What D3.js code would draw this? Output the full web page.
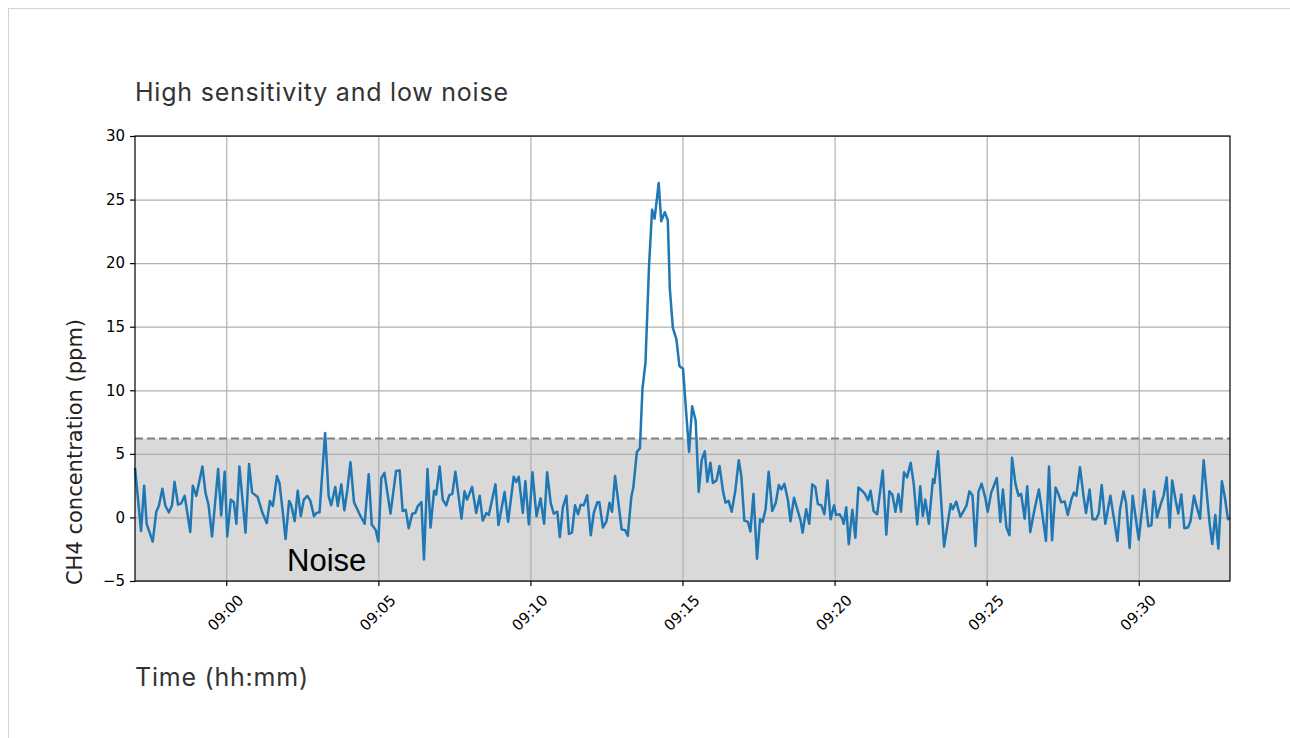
<!DOCTYPE html>
<html>
<head>
<meta charset="utf-8">
<script src="https://cdn.jsdelivr.net/npm/d3@7"></script>
<style>
  html, body { margin: 0; padding: 0; background: #fff; }
  svg { display: block; }
</style>
</head>
<body>
<script>
// Data
const startTime = "08:57:00";
const endTime = "09:33:00";
// seconds after start
const seconds = [
  0, 12, 18, 23, 35, 42, 47, 54, 60, 67, 73, 78, 85, 91, 98, 109, 114, 121, 133, 139,
  145, 152, 164, 170, 177, 182, 189, 195, 200, 206, 218, 225, 231, 242, 251, 260, 266, 272, 280, 285,
  292, 297, 304, 308, 315, 321, 327, 333, 340, 346, 353, 358, 364, 375, 382, 387, 395, 400, 407, 413,
  419, 425, 432, 443, 453, 461, 467, 475, 480, 486, 492, 504, 515, 522, 528, 534, 540, 547, 553, 558,
  565, 570, 577, 583, 590, 594, 601, 607, 614, 620, 626, 632, 644, 650, 655, 665, 673, 680, 686, 693,
  698, 711, 717, 729, 736, 747, 752, 757, 765, 770, 777, 784, 792, 800, 807, 813, 820, 826, 833, 838,
  844, 851, 856, 862, 868, 874, 879, 885, 892, 899, 905, 912, 916, 923, 930, 936, 941, 947, 954, 960,
  967, 972, 979, 983, 990, 996, 1001, 1007, 1014, 1020, 1025, 1033, 1038, 1045, 1051, 1055, 1061, 1068, 1074, 1081,
  1087, 1093, 1099, 1106, 1112, 1118, 1124, 1129, 1135, 1140, 1147, 1153, 1160, 1165, 1171, 1177, 1184, 1191, 1196, 1202,
  1209, 1214, 1220, 1227, 1233, 1238, 1244, 1250, 1257, 1264, 1270, 1275, 1281, 1288, 1293, 1300, 1306, 1313, 1317, 1324,
  1330, 1336, 1342, 1347, 1354, 1360, 1366, 1372, 1379, 1383, 1390, 1395, 1398, 1403, 1408, 1415, 1421, 1427, 1434, 1440,
  1446, 1451, 1457, 1464, 1475, 1482, 1488, 1494, 1500, 1506, 1511, 1517, 1523, 1530, 1536, 1543, 1549, 1554, 1559, 1566,
  1574, 1577, 1584, 1596, 1609, 1613, 1620, 1628, 1640, 1646, 1652, 1658, 1664, 1670, 1677, 1682, 1689, 1700, 1707, 1712,
  1719, 1725, 1730, 1737, 1743, 1748, 1755, 1760, 1766, 1774, 1783, 1789, 1797, 1803, 1809, 1816, 1822, 1827, 1834, 1840,
  1847, 1852, 1857, 1864, 1871, 1876, 1883, 1889, 1896, 1901, 1907, 1914, 1924, 1938, 1943, 1950, 1955, 1962, 1968, 1980,
  1991, 1999, 2005, 2010, 2016, 2023, 2029, 2035, 2041, 2046, 2053, 2058, 2064, 2070, 2077, 2082, 2089, 2095, 2101, 2108,
  2120, 2125, 2131, 2137, 2144, 2150, 2156, 2160
];
// CH4 concentration (ppm)
const ch4 = [
  3.9, -1.07, 2.5, -0.5, -1.9, 0.45, 0.9, 2.25, 0.9, 0.4, 0.95, 2.8, 1.0, 1.1, 1.7, -1.15, 2.5, 1.7, 4.0, 1.95,
  1.0, -1.5, 3.8, 0.15, 3.6, -1.5, 1.4, 1.2, -0.5, 4.0, -1.2, 4.2, 1.95, 1.6, 0.4, -0.45, 1.3, 0.9, 3.25, 2.7,
  0.25, -1.7, 1.3, 1.0, -0.3, 2.1, 0.1, 1.4, 1.7, 1.3, 0.1, 0.35, 0.4, 6.65, 1.7, 0.95, 2.4, 0.9, 2.6, 0.55,
  2.2, 4.35, 1.2, 0.25, -0.5, 3.4, -0.55, -1.0, -1.9, 3.1, 3.5, 0.3, 3.65, 3.7, 0.5, 0.6, -0.85, 0.3, 0.35, 0.9,
  1.2, -3.3, 3.8, -0.8, 2.1, 1.8, 4.0, 1.4, 0.95, 1.75, 1.85, 3.6, -0.1, 2.05, 1.4, 2.4, 0.35, 1.7, -0.25, 0.35,
  0.2, 2.6, -0.6, 2.0, -0.35, 3.2, 2.8, 3.2, 0.35, 2.85, -0.55, 3.55, 0.1, 1.5, -0.5, 3.55, 1.15, 0.3, 0.45, -1.55,
  0.8, 1.7, -1.3, -1.2, 0.95, 0.25, 1.0, 0.95, 1.75, -1.4, 0.35, 1.2, 1.2, -0.8, -0.3, 1.15, 0.45, 3.25, 1.0, -0.95,
  -1.0, -1.45, 1.6, 2.35, 5.15, 5.45, 10.1, 12.2, 19.8, 24.2, 23.5, 26.3, 23.3, 24.0, 23.4, 18.0, 14.9, 14.0, 11.9, 11.7,
  8.4, 5.15, 8.75, 7.6, 2.0, 4.55, 5.2, 2.8, 4.3, 2.7, 2.9, 4.05, 2.05, 1.15, 1.3, 0.45, 2.05, 4.5, 3.25, -0.25,
  -0.35, -1.1, 1.85, -3.25, -0.15, -0.35, 0.65, 3.6, 0.5, 1.15, 2.55, 2.2, 2.65, 1.35, -0.3, 1.55, 0.7, -0.25, -1.2, 0.65,
  -0.5, 2.6, 2.4, 1.05, 0.95, 0.25, 2.9, -0.15, 0.95, 0.2, 0.25, -0.1, -0.5, 0.8, -2.1, 0.6, -1.6, 2.35, 2.1, 1.85,
  1.35, 2.1, 0.5, 0.25, 3.7, -1.35, 2.05, 1.8, 0.45, 1.85, 0.45, 3.55, 3.15, 4.3, 2.7, -0.55, 2.45, 0.1, 1.4, -0.5,
  3.0, 2.7, 5.2, -2.3, 1.05, 0.65, 1.25, 0.05, 0.9, 2.05, 1.75, -2.25, 2.05, 2.65, 1.6, 0.45, 1.95, 3.1, -0.35, 2.2,
  -0.8, -1.4, 4.7, 2.6, 1.7, 1.85, -0.1, 2.45, -1.15, 0.55, 2.2, 0.5, -1.85, 4.0, -1.8, 2.35, 1.8, 1.2, 1.25, 0.2,
  1.4, 1.95, 1.7, 3.95, 1.7, 0.35, 2.2, -0.15, -0.15, 0.3, 2.55, -0.5, 1.7, -1.85, 0.6, 2.05, 1.15, -2.4, 1.7, -1.75,
  2.2, -0.7, -0.6, 2.05, 0.0, 1.0, 1.7, 3.15, -0.8, 2.9, 1.3, 0.3, 1.8, -0.85, -0.8, -0.3, 1.7, 0.75, -0.1, 4.5,
  -0.55, -2.1, 0.2, -2.45, 2.85, 1.55, -0.15, 0.0
];
const yTicks = [-5, 0, 5, 10, 15, 20, 25, 30];
const noiseLevel = 6.2;
const title = "High sensitivity and low noise";
const xLabel = "Time (hh:mm)";
const yLabel = "CH4 concentration (ppm)";
const noiseText = "Noise";

/////////////////////////////////////////////////
// Setup
/////////////////////////////////////////////////

const width = 1290;
const height = 738;
const margin = { top: 136, right: 60, bottom: 157, left: 135 };
const plotW = width - margin.left - margin.right;
const plotH = height - margin.top - margin.bottom;

const parseTime = d3.timeParse("%H:%M:%S");
const t0 = parseTime(startTime);
const t1 = parseTime(endTime);
const data = seconds.map((s, i) => ({
  time: new Date(t0.getTime() + s * 1000),
  value: ch4[i],
}));

const x = d3.scaleTime().domain([t0, t1]).range([0, plotW]);
const y = d3.scaleLinear().domain([-5, 30]).range([plotH, 0]);

const svg = d3
  .select("body")
  .append("svg")
  .attr("width", width)
  .attr("height", height);

// card border
svg
  .append("rect")
  .attr("x", 8.5)
  .attr("y", 8.5)
  .attr("width", width)
  .attr("height", height)
  .attr("fill", "none")
  .attr("stroke", "#d4d4d4");

const graph = svg
  .append("g")
  .attr("transform", `translate(${margin.left}, ${margin.top})`);

// Noise band
graph
  .append("rect")
  .attr("x", 0)
  .attr("y", y(noiseLevel))
  .attr("width", plotW)
  .attr("height", y(-5) - y(noiseLevel))
  .attr("fill", "#d9d9d9");

// Grid
const xTicks = d3.timeMinute.every(5).range(t0, t1);
graph
  .append("g")
  .attr("class", "grid")
  .attr("transform", `translate(0, ${plotH})`)
  .call(d3.axisBottom(x).tickValues(xTicks).tickSize(-plotH).tickFormat(""));
graph
  .append("g")
  .attr("class", "grid")
  .call(d3.axisLeft(y).tickValues(yTicks).tickSize(-plotW).tickFormat(""));
graph.selectAll(".grid .domain").remove();
graph
  .selectAll(".grid line")
  .attr("stroke", "#b0b0b0")
  .attr("stroke-width", 1.2);

// Threshold line
graph
  .append("line")
  .attr("x1", 0)
  .attr("x2", plotW)
  .attr("y1", y(noiseLevel))
  .attr("y2", y(noiseLevel))
  .attr("stroke", "#808080")
  .attr("stroke-width", 2)
  .attr("stroke-dasharray", "8,4");

// Series
const line = d3
  .line()
  .x((d) => x(d.time))
  .y((d) => y(d.value));
graph
  .append("path")
  .datum(data)
  .attr("d", line)
  .attr("fill", "none")
  .attr("stroke", "#1f77b4")
  .attr("stroke-width", 2.5)
  .attr("stroke-linejoin", "round");

// Noise label
graph
  .append("text")
  .attr("x", 152)
  .attr("y", y(-4.25))
  .attr("font-family", "Liberation Sans, Arial, sans-serif")
  .attr("font-size", 31)
  .attr("fill", "#000")
  .text(noiseText);

// Frame
graph
  .append("rect")
  .attr("width", plotW)
  .attr("height", plotH)
  .attr("fill", "none")
  .attr("stroke", "#000")
  .attr("stroke-width", 1.2);

// Axes
const yAxisG = graph
  .append("g")
  .call(
    d3
      .axisLeft(y)
      .tickValues(yTicks)
      .tickSize(5)
      .tickPadding(5)
      .tickFormat((d) => (d < 0 ? "\u2212" + Math.abs(d) : d))
  );
const xAxisG = graph
  .append("g")
  .attr("transform", `translate(0, ${plotH})`)
  .call(
    d3
      .axisBottom(x)
      .tickValues(xTicks)
      .tickSize(5)
      .tickFormat(d3.timeFormat("%H:%M"))
  );
[yAxisG, xAxisG].forEach((g) => {
  g.select(".domain").remove();
  g.selectAll("line").attr("stroke", "#000").attr("stroke-width", 1.2);
  g.selectAll("text")
    .attr("font-family", "DejaVu Sans, sans-serif")
    .attr("font-size", 15)
    .attr("fill", "#000");
});
xAxisG
  .selectAll("text")
  .attr("y", 0)
  .attr("dy", 0)
  .attr("text-anchor", "middle")
  .attr("dominant-baseline", "central")
  .attr("transform", "translate(-1, 32) rotate(-45)");

// Labels
svg
  .append("text")
  .attr("x", 135)
  .attr("y", 101)
  .attr("font-family", "Inter, sans-serif")
  .attr("font-size", 25)
  .attr("textLength", 373)
  .attr("lengthAdjust", "spacing")
  .attr("fill", "#333")
  .text(title);
svg
  .append("text")
  .attr("x", 135)
  .attr("y", 686)
  .attr("font-family", "Inter, sans-serif")
  .attr("font-size", 25)
  .attr("textLength", 173)
  .attr("lengthAdjust", "spacing")
  .attr("fill", "#333")
  .text(xLabel);
svg
  .append("text")
  .attr("transform", "translate(82, 452) rotate(-90)")
  .attr("text-anchor", "middle")
  .attr("font-family", "DejaVu Sans, sans-serif")
  .attr("font-size", 21)
  .attr("fill", "#222")
  .text(yLabel);
</script>
</body>
</html>
